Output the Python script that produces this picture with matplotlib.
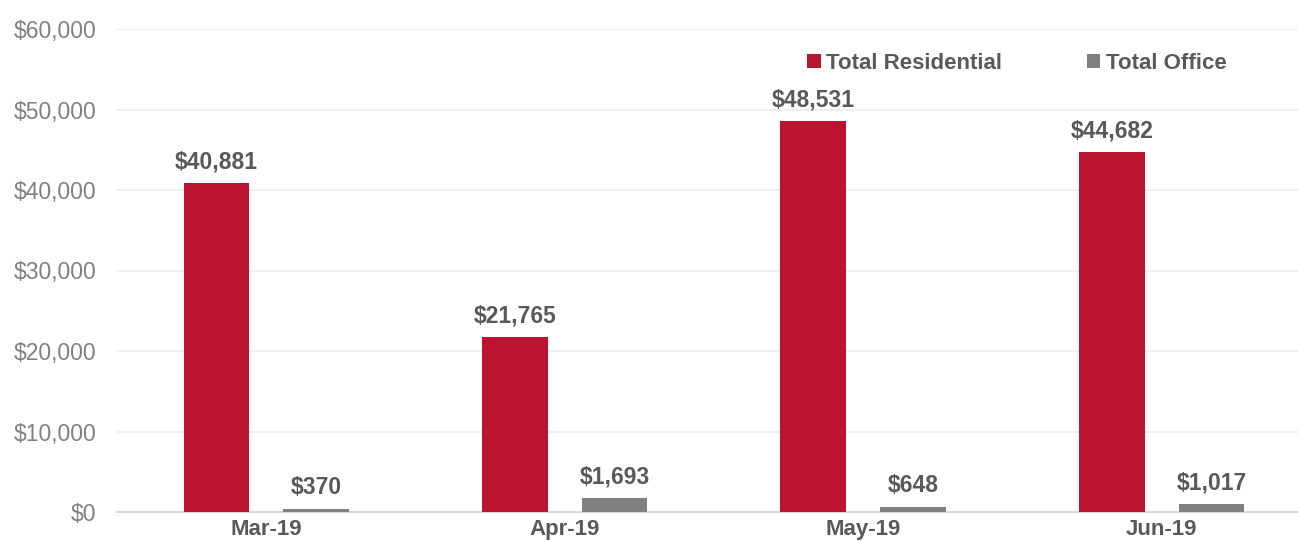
import matplotlib.pyplot as plt
import numpy as np

months = ["Mar-19", "Apr-19", "May-19", "Jun-19"]
residential = [40881, 21765, 48531, 44682]
office = [370, 1693, 648, 1017]

red = "#BA1431"
grey = "#808080"
dark = "#595959"

plt.rcParams["font.family"] = ["Liberation Sans", "DejaVu Sans"]

fig = plt.figure(figsize=(12.98, 5.41), dpi=100)
ax = fig.add_axes([117 / 1298, 29 / 541, 1 - 117 / 1298, 483 / 541])

x = np.arange(len(months))
w = 0.22
b1 = ax.bar(x - 0.167, residential, w, color=red, label="Total Residential", zorder=3)
b2 = ax.bar(x + 0.167, office, w, color=grey, label="Total Office", zorder=3)

for bars in (b1, b2):
    for rect in bars:
        h = rect.get_height()
        ax.annotate(f"${h:,.0f}", (rect.get_x() + rect.get_width() / 2, h),
                    xytext=(0, 7), textcoords="offset points", ha="center", va="bottom",
                    fontsize=16.5, fontweight="bold", color=dark)

ax.set_xlim(-0.5, 3.457)
ax.set_ylim(0, 60000)
ax.set_yticks(range(0, 60001, 10000))
ax.set_yticklabels([f"${v:,}" for v in range(0, 60001, 10000)], fontsize=16.5, color=grey)
ax.set_xticks(x)
ax.set_xticklabels(months, fontsize=16, fontweight="bold", color=dark)
ax.tick_params(axis="both", length=0)
ax.tick_params(axis="y", pad=15)
ax.tick_params(axis="x", pad=5)

ax.grid(axis="y", color="#EFEFEF", linewidth=1.5, zorder=0)
for s in ["top", "right", "left"]:
    ax.spines[s].set_visible(False)
ax.spines["bottom"].set_color("#D9D9D9")
ax.spines["bottom"].set_linewidth(1.5)

leg = ax.legend(ncol=2, loc="center", bbox_to_anchor=(0.762, 0.929), frameon=False,
                handlelength=0.6, handleheight=0.6, handletextpad=0.25, columnspacing=3.8,
                prop={"size": 16, "weight": "bold"})
for t in leg.get_texts():
    t.set_color(dark)

plt.savefig("out.png", dpi=100)
